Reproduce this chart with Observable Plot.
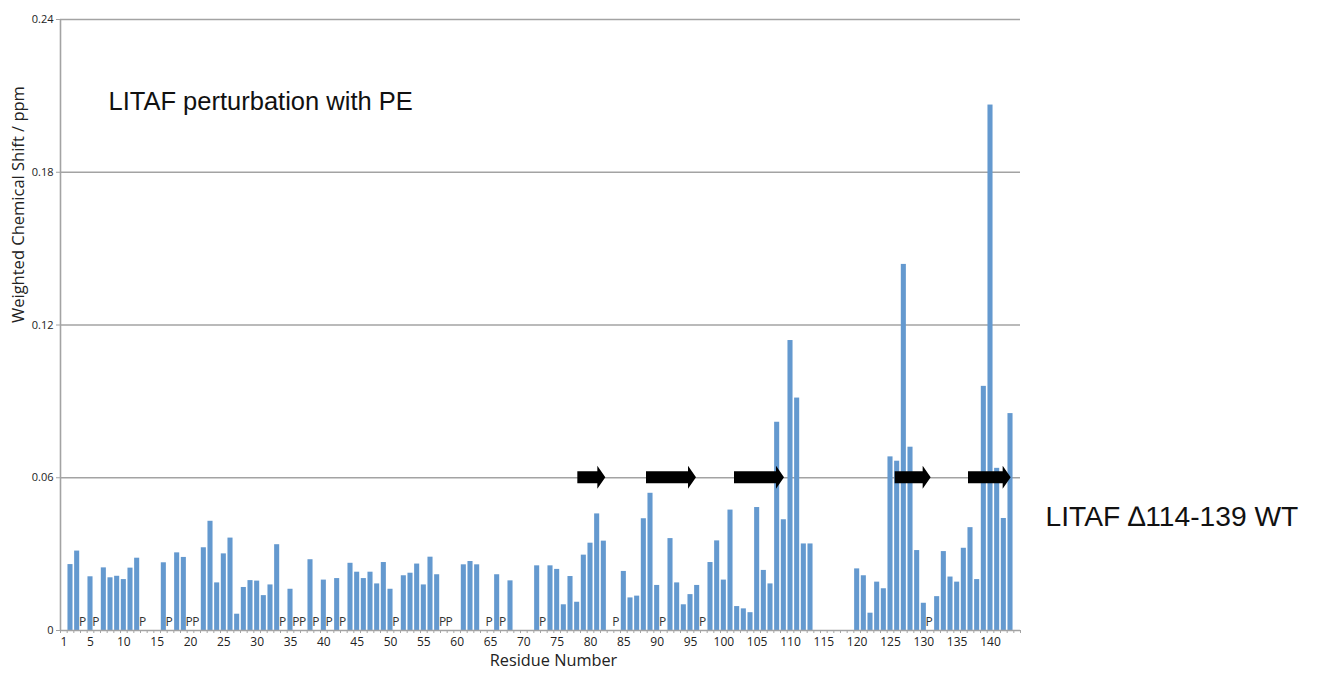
<!DOCTYPE html>
<html><head><meta charset="utf-8">
<script src="https://cdn.jsdelivr.net/npm/d3@7"></script>
<script src="https://cdn.jsdelivr.net/npm/@observablehq/plot@0.6"></script>
<style>
body{margin:0;background:#fff}
#chart{position:relative;width:1335px;height:680px}
</style>
</head><body><div id="chart"></div>
<script>
// Residue numbers with a measured shift, and the weighted chemical shift (ppm)
const residues = [2,3,5,7,8,9,10,11,12,16,18,19,22,23,24,25,26,27,28,29,30,31,32,33,35,38,40,42,44,45,46,47,48,49,50,52,53,54,55,56,57,61,62,63,66,68,72,74,75,76,77,78,79,80,81,82,85,86,87,88,89,90,92,93,94,95,96,98,99,100,101,102,103,104,105,106,107,108,109,110,111,112,113,120,121,122,123,124,125,126,127,128,129,130,132,133,134,135,136,137,138,139,140,141,142,143];
const shifts = [0.0259,0.0312,0.0211,0.0246,0.0207,0.0213,0.0200,0.0245,0.0284,0.0266,0.0305,0.0287,0.0325,0.0429,0.0187,0.0301,0.0363,0.0064,0.0169,0.0196,0.0194,0.0137,0.0179,0.0337,0.0162,0.0278,0.0198,0.0204,0.0264,0.0229,0.0204,0.0229,0.0183,0.0267,0.0162,0.0215,0.0225,0.0261,0.0179,0.0288,0.0219,0.0258,0.0271,0.0258,0.0219,0.0195,0.0254,0.0254,0.0240,0.0101,0.0212,0.0111,0.0296,0.0343,0.0458,0.0351,0.0232,0.0128,0.0135,0.0439,0.0539,0.0177,0.0361,0.0187,0.0101,0.0141,0.0177,0.0267,0.0352,0.0198,0.0473,0.0094,0.0085,0.0070,0.0483,0.0236,0.0183,0.0818,0.0435,0.1139,0.0913,0.0340,0.0340,0.0242,0.0215,0.0068,0.0190,0.0164,0.0682,0.0665,0.1438,0.0720,0.0314,0.0107,0.0133,0.0310,0.0210,0.0190,0.0323,0.0404,0.0200,0.0959,0.2064,0.0637,0.0440,0.0852];
// Proline residues (marked "P")
const prolines = [4,6,13,17,20,21,34,36,37,39,41,43,51,58,59,65,67,73,84,91,97,131];
// Beta strands (start residue, end residue) drawn as arrows
const strandStart = [78.1, 88.4, 101.6, 125.7, 136.7];
const strandEnd   = [82.3, 95.9, 109.1, 131.1, 143.1];
const strandLevel = 0.06;
// Axis ticks
const xTicks = [1,5,10,15,20,25,30,35,40,45,50,55,60,65,70,75,80,85,90,95,100,105,110,115,120,125,130,135,140];
const yTicks = [0,0.06,0.12,0.18,0.24];
const nResidues = 144;

const bars = residues.map((r,i)=>({res:r, val:shifts[i]}));
const boundaries = d3.range(0, nResidues+1).map(n=>n+0.5);

// arrow outline (in data units) built from the strand list
const bodyHalf = 0.0024, headHalf = 0.0045, headLen = 1.2;
const arrowPts = [];
strandStart.forEach((s,i)=>{
  const e = strandEnd[i];
  arrowPts.push({id:i, x:s, y1:strandLevel-bodyHalf, y2:strandLevel+bodyHalf});
  arrowPts.push({id:i, x:e-headLen, y1:strandLevel-bodyHalf, y2:strandLevel+bodyHalf});
  arrowPts.push({id:i, x:e-headLen, y1:strandLevel-headHalf, y2:strandLevel+headHalf});
  arrowPts.push({id:i, x:e, y1:strandLevel, y2:strandLevel});
});

const gray = "#a3a3a3";
const tickFont = "'Open Sans', 'DejaVu Sans', sans-serif";
const arial = "'Liberation Sans', Arial, sans-serif";

const chart = Plot.plot({
  width: 1335,
  height: 680,
  marginLeft: 60,
  marginRight: 315,
  marginTop: 19,
  marginBottom: 50,
  x: {domain: [0.5, nResidues + 0.5]},
  y: {domain: [0, 0.24]},
  style: {fontFamily: tickFont, color: "#222", background: "#fff"},
  marks: [
    Plot.ruleY(yTicks.slice(1), {stroke: gray, strokeWidth: 1.6}),
    Plot.rectY(bars, {x1: d=>d.res-0.5, x2: d=>d.res+0.5, y: "val", fill: "#6499cf", insetLeft: 0.8, insetRight: 0.8}),
    Plot.ruleX([0.5], {stroke: gray, strokeWidth: 1.6}),
    Plot.ruleY([0], {stroke: gray, strokeWidth: 1.6}),
    Plot.axisY(yTicks, {tickSize: 4, tickPadding: 3, stroke: gray, fontSize: 11, label: null, tickFormat: d => d === 0 ? "0" : d3.format(".2f")(d)}),
    Plot.axisX(boundaries, {tickSize: 3, stroke: gray, tickFormat: () => "", label: null}),
    Plot.axisX(xTicks, {tickSize: 0, tickPadding: 7, fontSize: 12, label: null}),
    Plot.text(prolines, {x: d=>d-0.2, y: 0, text: () => "P", dy: -8, fontSize: 12, fill: "#333"}),
    Plot.areaY(arrowPts, {x: "x", y1: "y1", y2: "y2", z: "id", fill: "#000", curve: "linear"}),
    Plot.text(["Weighted Chemical Shift / ppm"], {frameAnchor: "left", dx: -42, dy: -2, rotate: -90, fontSize: 16.5, fill: "#222"}),
    Plot.text(["Residue Number"], {frameAnchor: "bottom", dx: 13, dy: 35, fontSize: 16.3, fill: "#222"}),
    Plot.text(["LITAF perturbation with PE"], {frameAnchor: "top-left", textAnchor: "start", lineAnchor: "middle", dx: 48, dy: 82, fontSize: 25.5, fontFamily: arial, fill: "#111"}),
    Plot.text(["LITAF \u2206114-139 WT"], {frameAnchor: "right", textAnchor: "start", lineAnchor: "middle", dx: 25, dy: 192, fontSize: 28.2, fontFamily: arial, fill: "#111"})
  ]
});
document.getElementById("chart").appendChild(chart);
</script>
</body></html>
